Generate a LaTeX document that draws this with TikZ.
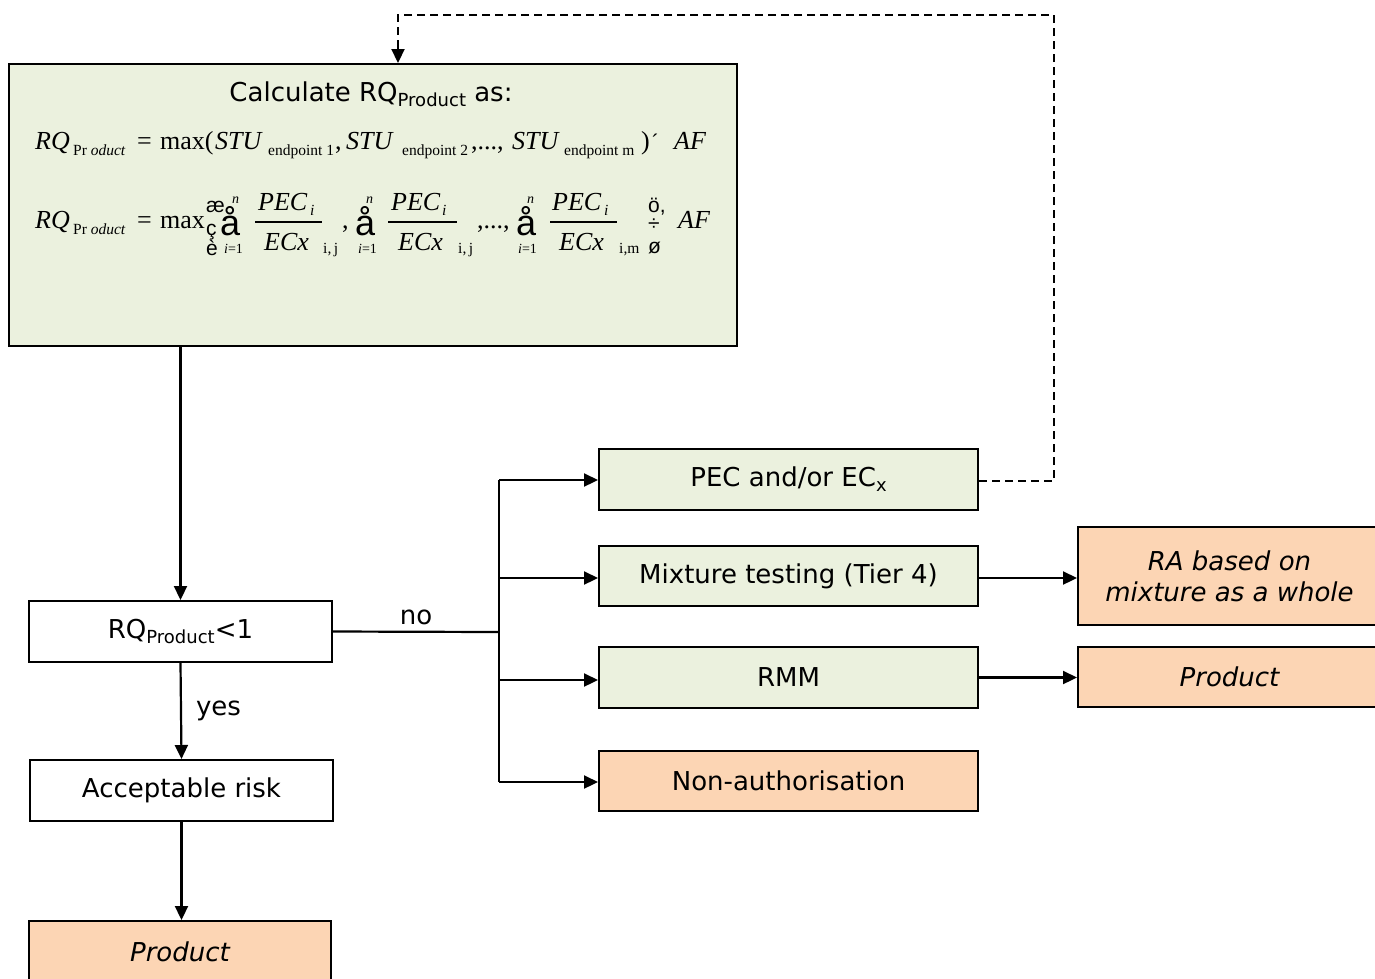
\documentclass[tikz,border=0pt]{standalone}
\usepackage{fontspec}
\setmainfont{DejaVu Sans}
\newfontfamily\serifeq{Liberation Serif}
\newfontfamily\symfont{Liberation Sans}
\usetikzlibrary{arrows.meta}
\definecolor{boxgreen}{HTML}{EBF1DE}
\definecolor{boxorange}{HTML}{FCD5B4}
\newcommand{\lowsub}[1]{\raisebox{-5pt}{\fontsize{18}{20}\selectfont #1}}
\tikzset{
  box/.style={draw=black, line width=2pt, inner sep=0pt, align=center, font=\fontsize{26}{31}\selectfont},
  greenbox/.style={box, fill=boxgreen},
  orangebox/.style={box, fill=boxorange, font=\fontsize{26}{31}\selectfont\itshape},
  whitebox/.style={box, fill=white},
  arr/.style={line width=2.2pt, -{Triangle[length=14pt,width=13pt]}},
  conn/.style={line width=2.2pt},
  dashconn/.style={line width=2pt, dash pattern=on 8pt off 5pt},
  lbl/.style={font=\fontsize{26}{31}\selectfont, inner sep=0pt, anchor=base},
  eq/.style={inner sep=0pt, anchor=base west, font=\serifeq\fontsize{26}{30}\selectfont\itshape},
  eqrm/.style={inner sep=0pt, anchor=base west, font=\serifeq\fontsize{26}{30}\selectfont},
  eqsub/.style={inner sep=0pt, anchor=base west, font=\serifeq\fontsize{15.5}{18}\selectfont},
  eqlim/.style={inner sep=0pt, anchor=base west, font=\serifeq\fontsize{14}{16}\selectfont},
  sym/.style={inner sep=0pt, anchor=base west, font=\symfont\fontsize{21}{24}\selectfont},
  bigsym/.style={inner sep=0pt, anchor=base west, font=\symfont\fontsize{36}{40}\selectfont},
  fracbar/.style={line width=1.3pt},
}
\begin{document}
\begin{tikzpicture}[x=1pt,y=-1pt]
\useasboundingbox (0,0) rectangle (1375,978);

% boxes
\node[greenbox, minimum width=728pt, minimum height=282pt] (calc) at (373,205) {};
\node[whitebox, minimum width=303pt, minimum height=61pt] (rq) at (180.5,631.5) {RQ\lowsub{Product}<1};
\node[whitebox, minimum width=303pt, minimum height=61pt] (acc) at (181.5,790.5) {Acceptable risk};
\node[orangebox, minimum width=302pt, minimum height=61pt] (prodA) at (180,951.5) {Product};
\node[greenbox, minimum width=379pt, minimum height=61pt] (pec) at (788.5,479.5) {PEC and/or EC\lowsub{x}};
\node[greenbox, minimum width=379pt, minimum height=60pt] (mix) at (788.5,576) {Mixture testing (Tier 4)};
\node[greenbox, minimum width=379pt, minimum height=61pt] (rmm) at (788.5,677.5) {RMM};
\node[orangebox, minimum width=379pt, minimum height=60pt] (non) at (788.5,781) {\upshape Non-authorisation};
\node[orangebox, minimum width=303pt, minimum height=98pt] (ra) at (1229.5,576) {RA based on\\mixture as a whole};
\node[orangebox, minimum width=303pt, minimum height=60pt] (prodB) at (1229.5,677) {Product};

% heading in calc box
\node[lbl] (calctitle) at (371,101) {Calculate RQ\lowsub{Product} as:};

% equation 1
\node[eq] (a1) at (35,149) {RQ};
\node[eqsub] (a2) at (73,155) {Pr \itshape oduct};
\node[eqrm] (a3) at (137,149) {=};
\node[eqrm] (a4) at (160,149) {max(};
\node[eq] (a5) at (215,149) {STU};
\node[eqsub] (a6) at (268,155) {endpoint 1};
\node[eqrm] (a7) at (335,149) {,};
\node[eq] (a8) at (346,149) {STU};
\node[eqsub] (a9) at (402,155) {endpoint 2};
\node[eqrm] (a10) at (471,149) {,...,};
\node[eq] (a11) at (512,149) {STU};
\node[eqsub] (a12) at (564,155) {endpoint m};
\node[eqrm] (a13) at (641,149) {)};
\node[sym] (a14) at (652,149) {´};
\node[eq] (a15) at (674,149) {AF};

% equation 2
\node[eq] (b1) at (35,228) {RQ};
\node[eqsub] (b2) at (73,234) {Pr \itshape oduct};
\node[eqrm] (b3) at (137,228) {=};
\node[eqrm] (b4) at (160,228) {max};
\node[sym] (b5) at (206,212) {æ};
\node[sym] (b6) at (206,235) {ç};
\node[sym] (b7) at (206,255) {è};
\node[bigsym] (b8) at (220,235) {å};
\node[eqlim] (b9) at (232,203) {\itshape n};
\node[eqlim] (b10) at (224,253) {\itshape i\upshape =1};
\node[eq] (b11) at (258,210) {PEC};
\node[eqsub] (b12) at (310,215) {\itshape i};
\draw[fracbar] (255,222) -- (322,222);
\node[eq] (b13) at (264,250) {ECx};
\node[eqsub] (b14) at (323,253) {i,\,j};
\node[eqrm] (b15) at (342,228) {,};
\node[bigsym] (b16) at (355,235) {å};
\node[eqlim] (b17) at (366,203) {\itshape n};
\node[eqlim] (b18) at (358,253) {\itshape i\upshape =1};
\node[eq] (b19) at (391,210) {PEC};
\node[eqsub] (b20) at (442,215) {\itshape i};
\draw[fracbar] (388,222) -- (457,222);
\node[eq] (b21) at (398,250) {ECx};
\node[eqsub] (b22) at (458,253) {i,\,j};
\node[eqrm] (b23) at (477,228) {,...,};
\node[bigsym] (b24) at (516,235) {å};
\node[eqlim] (b25) at (527,203) {\itshape n};
\node[eqlim] (b26) at (518,253) {\itshape i\upshape =1};
\node[eq] (b27) at (552,210) {PEC};
\node[eqsub] (b28) at (604,215) {\itshape i};
\draw[fracbar] (550,222) -- (617,222);
\node[eq] (b29) at (559,250) {ECx};
\node[eqsub] (b30) at (619,253) {i,m};
\node[sym] (b31) at (648,212) {ö,};
\node[sym] (b32) at (648,230) {÷};
\node[sym] (b33) at (648,253) {ø};
\node[eq] (b34) at (678,228) {AF};

% connectors
\draw[arr] (calc.south -| rq.north) -- (rq.north);
\draw[arr] (rq.south) -- node[lbl, anchor=west, xshift=14pt] (yes) {yes} (acc.north);
\draw[arr] (acc.south) -- (acc.south |- prodA.north);
\coordinate (split) at (499,632);
\coordinate (splitTop) at (499,480);
\coordinate (splitBot) at (499,782);
\draw[conn] (rq.east) -- node[lbl, anchor=south, yshift=6pt] (no) {no} (split);
\draw[conn] (splitTop) -- (splitBot);
\draw[arr] (splitTop) -- (splitTop -| pec.west);
\draw[arr] (499,578) -- (mix.west |- 0,578);
\draw[arr] (499,680) -- (rmm.west |- 0,680);
\draw[arr] (splitBot) -- (splitBot -| non.west);
\draw[arr] (mix.east |- 0,578) -- (ra.west |- 0,578);
\draw[arr] (rmm.east) -- (rmm.east -| prodB.west);
\coordinate (dashR) at (1054,481);
\coordinate (dashTR) at (1054,15);
\coordinate (dashTL) at (398,15);
\draw[dashconn] (pec.east |- dashR) -- (dashR) -- (dashTR) -- (dashTL) -- (398,40);
\draw[arr] (398,40) -- (dashTL |- calc.north);
\end{tikzpicture}
\end{document}
